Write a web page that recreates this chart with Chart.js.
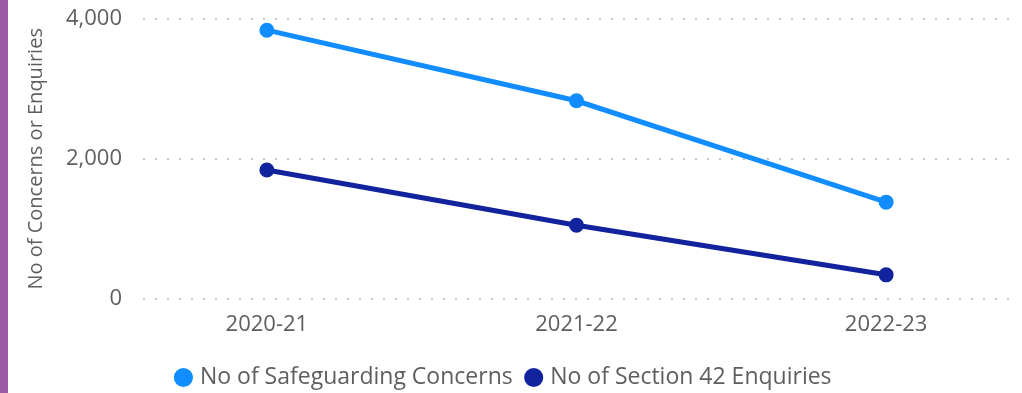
<!DOCTYPE html>
<html>
<head>
<meta charset="utf-8">
<script src="https://cdn.jsdelivr.net/npm/chart.js@4.4.0/dist/chart.umd.min.js"></script>
<style>
  html, body { margin: 0; padding: 0; background: #fff; }
  #wrap { position: relative; width: 1022px; height: 393px; }
  #bar { position: absolute; left: 0; top: 0; width: 8px; height: 393px; background: #9B5BA5; }
  #box { position: absolute; left: 0; top: 0; width: 1022px; height: 393px; }
</style>
</head>
<body>
<div id="wrap">
  <div id="box"><canvas id="miGrafico"></canvas></div>
  <div id="bar"></div>
</div>
<script>
    // datos
    var categorias = ['2020-21', '2021-22', '2022-23'];
    var concerns = [3840, 2830, 1380];
    var enquiries = [1840, 1050, 340];
    var yTicks = [0, 2000, 4000];

    var fuente = "'Open Sans', 'Noto Sans', sans-serif";
    var gris = '#605E5C';

    function puntos(arr) {
        return arr.map(function (v, i) { return { x: i, y: v }; });
    }

    var ctx = document.getElementById('miGrafico').getContext('2d');
    var miGrafico = new Chart(ctx, {
        type: 'line',
        data: {
            datasets: [{
                label: 'No of Safeguarding Concerns',
                data: puntos(concerns),
                borderColor: '#118DFF',
                backgroundColor: '#118DFF',
                borderWidth: 5,
                pointRadius: 5,
                pointHoverRadius: 5,
                tension: 0
            }, {
                label: 'No of Section 42 Enquiries',
                data: puntos(enquiries),
                borderColor: '#12239E',
                backgroundColor: '#12239E',
                borderWidth: 5,
                pointRadius: 5,
                pointHoverRadius: 5,
                tension: 0
            }]
        },
        options: {
            responsive: true,
            maintainAspectRatio: false,
            animation: false,
            layout: { padding: { left: 0, right: 12, top: 19, bottom: 0 } },
            plugins: {
                tooltip: { enabled: false },
                legend: {
                    position: 'bottom',
                    labels: {
                        usePointStyle: true,
                        pointStyle: 'circle',
                        boxWidth: 10,
                        boxHeight: 10,
                        padding: 16,
                        color: gris,
                        font: { family: fuente, size: 23 }
                    }
                }
            },
            scales: {
                x: {
                    type: 'linear',
                    min: -0.4,
                    max: 2.4,
                    afterBuildTicks: function (scale) {
                        scale.ticks = categorias.map(function (c, i) { return { value: i }; });
                    },
                    afterFit: function (scale) { scale.height += 1; },
                    grid: { display: false },
                    border: { display: false },
                    ticks: {
                        color: gris,
                        padding: 5,
                        font: { family: fuente, size: 22 },
                        callback: function (v) { return categorias[v]; }
                    }
                },
                y: {
                    min: 0,
                    max: 4000,
                    afterBuildTicks: function (scale) {
                        scale.ticks = yTicks.map(function (v) { return { value: v }; });
                    },
                    afterFit: function (scale) {
                        scale.width = 143;
                        scale.paddingTop = 0;
                        scale.paddingBottom = 0;
                    },
                    border: { display: false, dash: [2, 10] },
                    grid: {
                        color: '#C8C6C4',
                        lineWidth: 2,
                        drawTicks: false
                    },
                    ticks: {
                        color: gris,
                        padding: 21,
                        font: { family: fuente, size: 22 },
                        callback: function (v) { return v.toLocaleString('en-US'); }
                    },
                    title: {
                        display: true,
                        text: 'No of Concerns or Enquiries',
                        color: gris,
                        padding: { top: 24, bottom: 0 },
                        font: { family: fuente, size: 20 }
                    }
                }
            }
        },
        plugins: [{
            id: 'bajarLeyenda',
            afterLayout: function (chart) {
                // baja la leyenda hacia el borde inferior
                chart.legend.top += 6;
                chart.legend.bottom += 6;
            }
        }]
    });
</script>
</body>
</html>
